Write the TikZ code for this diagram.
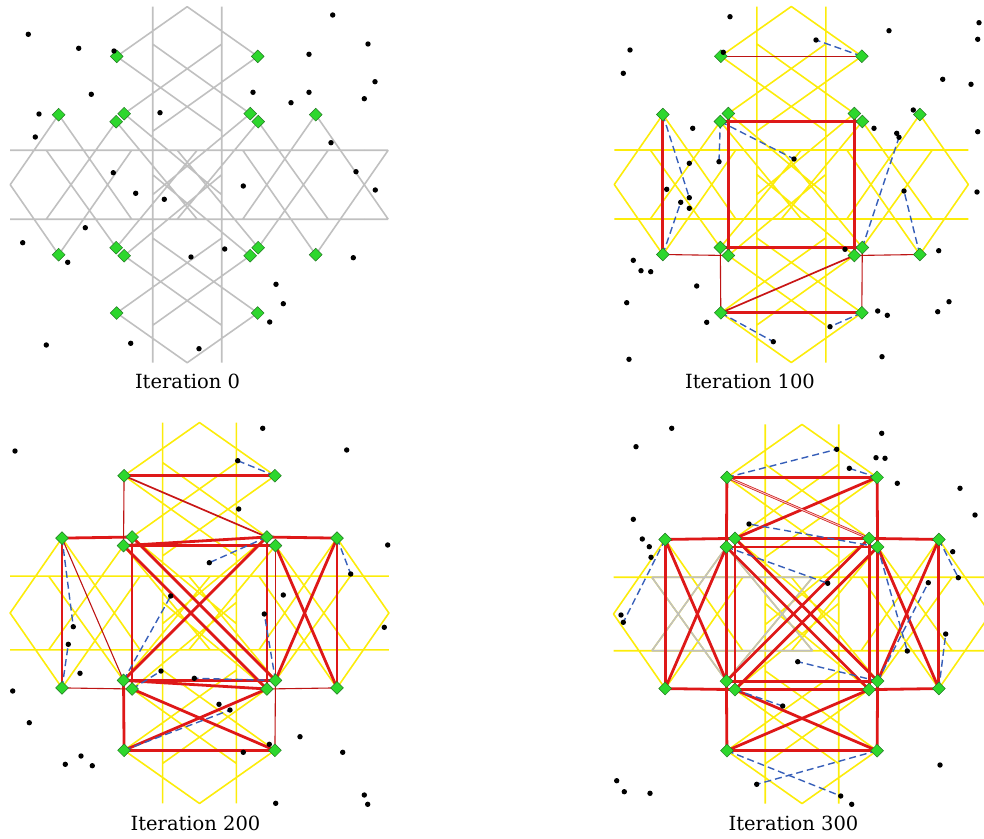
\documentclass[tikz,border=0pt]{standalone}
\usepackage{fontspec}
\setmainfont{DejaVu Serif}
\usetikzlibrary{shapes.geometric}

\definecolor{netgray}{RGB}{192,192,192}
\definecolor{netyellow}{RGB}{252,236,10}
\definecolor{linkred}{RGB}{222,24,24}
\definecolor{dashblue}{RGB}{55,95,185}
\definecolor{sitegreen}{RGB}{45,215,45}
\definecolor{siteedge}{RGB}{35,120,35}

\pgfdeclarelayer{back}
\pgfsetlayers{back,main}

\tikzset{
  road/.style={line width=1.6pt,line join=round},
  site/.style={diamond,fill=sitegreen,draw=siteedge,line width=0.5pt,inner sep=0pt,minimum size=13pt},
  sample/.style={circle,fill=black,inner sep=0pt,minimum size=5.4pt},
  redlink/.style={linkred,line width=2.8pt},
  midlink/.style={linkred!90!black,line width=1.7pt},
  thinlink/.style={linkred!85!black,line width=1.1pt},
  twinlink/.style={draw=linkred!90!black,double=red!25,double distance=1pt,line width=0.7pt},
  assign/.style={dashblue,line width=1.4pt,dash pattern=on 7pt off 4pt},
  caption/.style={font=\fontsize{19.5}{22}\selectfont}
}

% road pattern of one panel, centre at the origin (right tip drawn apart)
\newcommand{\roads}[1]{%
  \draw[#1]
    % corridors
    (-34.5,-178) -- (-34.5,178) (34.5,-178) -- (34.5,178)
    (-177,-34.5) -- (177,-34.5) (-177,34.5) -- (177,34.5)
    % top and bottom arms
    (-70.5,-128.3) -- (0,-178) -- (70.5,-128.3)
    (-70.5,128.3) -- (0,178) -- (70.5,128.3)
    (-70.5,-128.3) -- (34.5,-53.4) (70.5,-128.3) -- (-34.5,-53.4)
    (-70.5,128.3) -- (34.5,53.4) (70.5,128.3) -- (-34.5,53.4)
    (-34.5,-140.6) -- (63,-71) (34.5,-140.6) -- (-63,-71)
    (-34.5,140.6) -- (63,71) (34.5,140.6) -- (-63,71)
    % left arm
    (-128.5,-70) -- (-177,0) -- (-128.5,70)
    (-128.5,-70) -- (-55.5,34.5) (-128.5,70) -- (-55.5,-34.5)
    (-141,-34.5) -- (-71,63) (-141,34.5) -- (-71,-63)
    % right arm
    (128.5,-70) -- (55.5,34.5) (128.5,70) -- (55.5,-34.5)
    (141,-34.5) -- (71,63) (141,34.5) -- (71,-63)
    % centre
    (-71,-63) -- (10,34.5) (71,-63) -- (-10,34.5)
    (-71,63) -- (10,-34.5) (71,63) -- (-10,-34.5)
    (-63,-71) -- (34.5,10) (-63,71) -- (34.5,-10)
    (63,-71) -- (-34.5,10) (63,71) -- (-34.5,-10);
}

% the sixteen green sites, names prefixed by #1
\newcommand{\sites}[1]{%
  \foreach \s/\x/\y in {t1/-70.5/-128.3,t2/70.5/-128.3,b1/-70.5/128.3,b2/70.5/128.3,
      l1/-128.5/-70,l2/-128.5/70,r1/128.5/-70,r2/128.5/70,
      ct1/-63/-71,ct2/63/-71,cb1/-63/71,cb2/63/71,
      cl1/-71/-63,cl2/-71/63,cr1/71/-63,cr2/71/63}
    \node[site] (#1\s) at (\x,\y) {};
}

\begin{document}
\begin{tikzpicture}[x=1pt,y=-1pt]
\useasboundingbox (0,0) rectangle (984,838);

% ---- iteration 0
\begin{scope}[shift={(187.2,184.7)}]
  \begin{pgfonlayer}{back}
    \roads{road,netgray}
    \draw[road,netgray] (128.5,-70) -- (201,34.5) (128.5,70) -- (201,-34.5)
      (177,-34.5) -- (201,-34.5) (177,34.5) -- (201,34.5);
  \end{pgfonlayer}
  \sites{A}
\end{scope}
\foreach \x/\y [count=\i] in {28.3/34.3,78.7/48.3,114/51,332.7/15,368/44,309/54.3,375/81.7,
    91.3/94.3,253/92.3,309/92.3,291/102.7,364.3/98.7,39/114,160/112.7,35.3/137,331/142.7,
    113.3/172.7,356/171.7,135.7/193.3,164.3/199.3,243.3/186,375.3/190,85.3/227.7,22.7/242.7,
    67.7/262.3,191/257,224.7/249,353.3/257.7,276/284.3,283.3/303.7,269.7/322,46.3/345,
    130.7/343.3,199/348.7}
  \node[sample] (Ad\i) at (\x,\y) {};
\node[caption] (capA) at (187.5,381) {Iteration 0};

% ---- iteration 100
\begin{scope}[shift={(791.3,184.5)}]
  \begin{pgfonlayer}{back}
    \roads{road,netyellow}
    \draw[road,netyellow] (128.5,-70) -- (177,0) -- (128.5,70);
  \end{pgfonlayer}
  \sites{B}
\end{scope}
\foreach \x/\y [count=\i] in {816/40,689.3/197.7,680.7/202.3,719/161.7,794/159,899/137.3,
    904/191,773.3/341.7,830/326.7}
  \node[sample] (Bh\i) at (\x,\y) {};
\foreach \x/\y [count=\i] in {730/16.7,630/50,623.3/73.3,889/30.7,979/22.7,977.7/39.3,
    723.3/52.3,942.7/79.3,971/84.3,913.3/110,692.7/128.3,874/128.3,896.7/133.3,977.7/131.7,
    689.3/163.3,666.7/189.3,689.3/208.3,977/192,845/249.3,938.7/250.7,633.3/260.3,641/270.7,
    650.7/271.7,696.7/286,626.7/302.7,706.7/322.3,877.7/311,887.3/315.3,949/301.7,
    937.7/311.7,629/359.3,882/356.7}
  \node[sample] (Bd\i) at (\x,\y) {};
\begin{pgfonlayer}{back}
  \foreach \u/\v in {cl1/cr1,cl2/cr2,ct1/cb1,ct2/cb2,l1/l2,b1/b2}
    \draw[redlink] (B\u.center) -- (B\v.center);
  \foreach \u/\v in {t1/t2,l2/cb1,cl2/b1,cb2/r2,cr2/b2}
    \draw[thinlink] (B\u.center) -- (B\v.center);
  \draw[midlink] (Bb1.center) -- (Bcb2.center);
  \foreach \u/\v in {t2/h1,l1/h2,l2/h3,cl1/h4,cl1/h5,cr2/h6,r2/h7,b1/h8,b2/h9}
    \draw[assign] (B\u.center) -- (B\v.center);
\end{pgfonlayer}
\node[caption] (capB) at (750,381) {Iteration 100};

% ---- iteration 200
\begin{scope}[shift={(199.5,613)},scale=1.07]
  \begin{pgfonlayer}{back}
    \roads{road,netyellow}
    \draw[road,netyellow] (128.5,-70) -- (177,0) -- (128.5,70);
  \end{pgfonlayer}
  \sites{C}
\end{scope}
\foreach \x/\y [count=\i] in {237.7/460.7,73.3/626.7,68.3/644.3,209.3/562.7,350.7/574,
    170.7/596,161/671,264.3/614,194.3/678.3,230/710}
  \node[sample] (Ch\i) at (\x,\y) {};
\foreach \x/\y [count=\i] in {15/451,262.7/428.3,346.7/450,238.7/509,387.7/545,283.3/595,
    384.3/627.3,80/673.3,12.7/691,219/704.3,29.3/722.7,300/736.7,269.3/744.3,243.3/752.3,
    342.7/752.3,81/756,65.3/764.3,92.3/765.7,364.3/795,275.7/803.3,367.7/804.3}
  \node[sample] (Cd\i) at (\x,\y) {};
\begin{pgfonlayer}{back}
  \foreach \u/\v in {t1/t2,l1/ct1,l1/l2,cl1/cr1,cl1/ct2,ct1/cb1,ct2/cb2,cl2/cr2,cl2/cb2,
      ct1/cr2,cl1/cb2,ct2/cl2,ct2/r1,r1/r2,r1/cr2,cr1/r2,b1/b2,cb1/b2,b1/cb2,cl2/b1}
    \draw[redlink] (C\u.center) -- (C\v.center);
  \foreach \u/\v in {t1/cl1,l1/cl2,l2/cb1,cb2/r2,cr2/b2}
    \draw[thinlink] (C\u.center) -- (C\v.center);
  \foreach \u/\v in {t1/ct2,cr1/cr2}
    \draw[midlink] (C\u.center) -- (C\v.center);
  \foreach \u/\v in {t2/h1,l1/h2,l2/h3,ct2/h4,r1/h5,cl2/h6,cb1/h7,cr2/h8,cr2/h9,b1/h10}
    \draw[assign] (C\u.center) -- (C\v.center);
\end{pgfonlayer}
\node[caption] (capC) at (195.5,823) {Iteration 200};

% ---- iteration 300
\begin{scope}[shift={(802,614)},scale=1.065]
  \begin{pgfonlayer}{back}
    \roads{road,netyellow}
    \draw[road,netyellow] (128.5,-70) -- (177,0) -- (128.5,70);
    % parts not yet used
    \draw[road,netgray] (-141,-34.5) -- (-71,63) (-141,34.5) -- (-71,-63)
      (-71,-63) -- (10,34.5) (-71,63) -- (10,-34.5)
      (-141,-34.5) -- (10,-34.5) (-141,34.5) -- (10,34.5);
  \end{pgfonlayer}
  \sites{D}
\end{scope}
\foreach \x/\y [count=\i] in {836.7/449.3,849.3/468.3,749/524,827.7/583.3,623.3/622.3,
    958.3/577.7,907.3/651,928.3/582.7,945.7/634,797.7/661.7,782.7/706,840.7/796,756.7/784.3}
  \node[sample] (Dh\i) at (\x,\y) {};
\foreach \x/\y [count=\i] in {671.7/428.3,636/446.7,881.7/433.3,876/457.7,885/458.3,
    897.3/483.3,960/488.3,975/515,633.3/519.3,642.3/539,649.3/546.7,651/557.3,952.7/551.7,
    621/615,940/765,616.7/780.7,624.3/791.7,650/793.3,851.7/804.3}
  \node[sample] (Dd\i) at (\x,\y) {};
\begin{pgfonlayer}{back}
  \foreach \u/\v in {t1/t2,t1/cl1,t2/cr1,t2/ct1,l1/ct1,l1/l2,l1/cl2,l2/cl1,l2/cb1,
      cl1/cr1,ct1/ct2,ct1/cb1,cl1/cl2,ct2/cb2,cr1/cr2,cl2/cr2,cb1/cb2,ct1/cr2,cl1/cb2,
      ct2/cl2,cr1/cb1,ct2/r1,r1/r2,r1/cr2,cr1/r2,cb2/r2,b1/b2,b1/cb2,cb1/b2,cl2/b1,cr2/b2}
    \draw[redlink] (D\u.center) -- (D\v.center);
  \draw[twinlink] (Dt1.center) -- (Dct2.center);
  \foreach \u/\v in {t1/h1,t2/h2,cr1/h3,cl1/h4,l1/h5,r1/h6,cr1/h7,cr2/h8,r2/h9,cr2/h10,
      cb1/h11,b1/h12,b2/h13}
    \draw[assign] (D\u.center) -- (D\v.center);
\end{pgfonlayer}
\node[caption] (capD) at (793.5,823) {Iteration 300};
\end{tikzpicture}
\end{document}
